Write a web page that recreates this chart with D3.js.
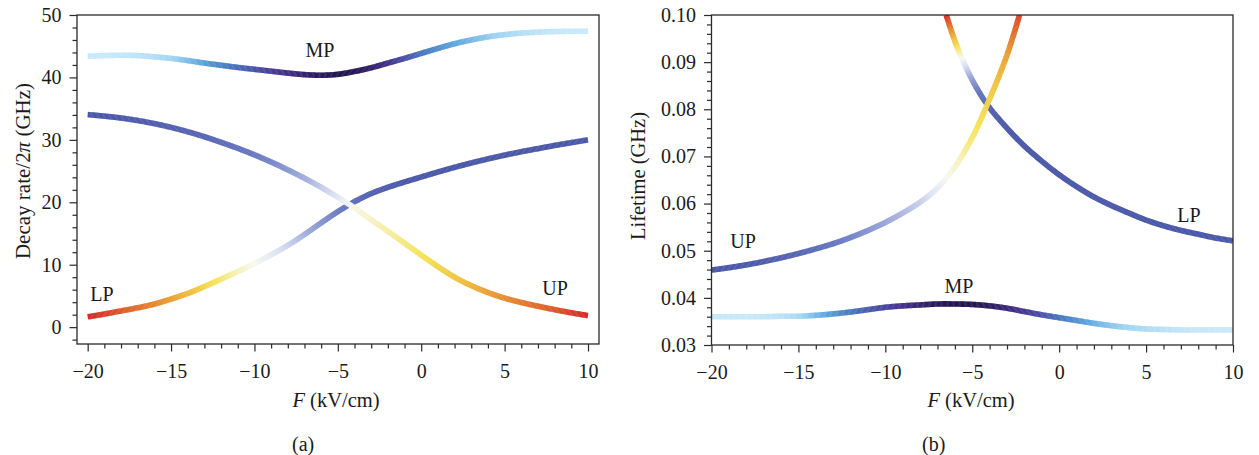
<!DOCTYPE html>
<html>
<head>
<meta charset="utf-8">
<script src="https://cdn.jsdelivr.net/npm/d3@7"></script>
<style>
  html, body { margin: 0; padding: 0; background: #fff; }
  svg { display: block; }
</style>
</head>
<body>
<svg id="chart" width="1259" height="455"></svg>
<script>
// ---------------- DATA ----------------
const leftX = [-20,-19,-18,-17,-16,-15,-14,-13,-12,-11,-10,-9,-8,-7,-6,-5,-4,-3,-2,-1,0,1,2,3,4,5,6,7,8,9,10];
// (a) Decay rate / 2pi (GHz)
const leftMP  = [43.4,43.5,43.55,43.5,43.3,43.05,42.7,42.3,41.95,41.6,41.3,41.0,40.7,40.45,40.35,40.5,40.95,41.55,42.3,43.05,43.85,44.65,45.4,46.0,46.5,46.85,47.1,47.25,47.35,47.4,47.4];
const leftMPc = [0,0,0.02,0.05,0.1,0.18,0.3,0.42,0.52,0.6,0.67,0.74,0.81,0.88,0.95,1.0,0.97,0.9,0.8,0.68,0.57,0.48,0.4,0.32,0.24,0.17,0.1,0.05,0.02,0,0];
const leftLP  = [1.65,2.1,2.6,3.1,3.7,4.5,5.4,6.5,7.7,8.9,10.2,11.6,13.1,14.85,16.7,18.5,20.1,21.4,22.4,23.25,24.05,24.85,25.6,26.3,26.95,27.55,28.1,28.6,29.1,29.55,30.0];
const leftLPc = [1.0,0.97,0.93,0.89,0.85,0.8,0.75,0.68,0.62,0.56,0.5,0.44,0.38,0.3,0.22,0.15,0.08,0.04,0.02,0,0,0,0,0,0,0,0,0,0,0,0];
const leftUP  = [34.05,33.8,33.5,33.1,32.6,32.0,31.3,30.5,29.6,28.65,27.6,26.45,25.2,23.85,22.4,20.8,19.1,17.2,15.35,13.45,11.55,9.7,8.0,6.65,5.55,4.65,3.95,3.35,2.8,2.3,1.85];
const leftUPc = [0,0,0.01,0.02,0.03,0.04,0.05,0.06,0.08,0.11,0.14,0.18,0.23,0.29,0.36,0.43,0.52,0.55,0.58,0.61,0.64,0.68,0.72,0.76,0.8,0.84,0.87,0.9,0.93,0.97,1.0];

// (b) Lifetime (GHz)
const rightMPx = [-20,-19,-18,-17,-16,-15,-14,-13,-12,-11,-10,-9,-8,-7,-6,-5,-4,-3,-2,-1,0,1,2,3,4,5,6,7,8,9,10];
const rightMP  = [0.0360,0.0360,0.0360,0.0360,0.0361,0.0361,0.0363,0.0366,0.0370,0.0375,0.0380,0.0383,0.0385,0.0387,0.0387,0.0386,0.0383,0.0378,0.0371,0.0364,0.0358,0.0352,0.0346,0.0341,0.0337,0.0334,0.0333,0.0332,0.0332,0.0332,0.0332];
const rightMPc = [0,0,0,0.02,0.06,0.15,0.32,0.45,0.55,0.64,0.72,0.8,0.87,0.95,1.0,0.98,0.93,0.85,0.76,0.67,0.57,0.47,0.36,0.26,0.18,0.12,0.07,0.03,0.01,0,0];
const rightUPx = [-20,-19,-18,-17,-16,-15,-14,-13,-12,-11,-10,-9,-8,-7,-6,-5,-4,-3,-2.28];
const rightUP  = [0.0459,0.0464,0.0470,0.0477,0.0485,0.0494,0.0504,0.0515,0.0528,0.0543,0.0560,0.0580,0.0603,0.0633,0.0678,0.0740,0.0822,0.0915,0.1000];
const rightUPc = [0,0,0.01,0.02,0.04,0.06,0.09,0.13,0.17,0.22,0.27,0.32,0.37,0.45,0.54,0.62,0.69,0.8,0.96];
const rightLPx = [-6.5,-6,-5.5,-5,-4.5,-4,-3,-2,-1,0,1,2,3,4,5,6,7,8,9,10];
const rightLP  = [0.1000,0.0945,0.0900,0.0862,0.0830,0.0803,0.0760,0.0722,0.0690,0.0661,0.0636,0.0614,0.0596,0.0580,0.0565,0.0553,0.0543,0.0535,0.0527,0.0521];
const rightLPc = [1.0,0.72,0.45,0.24,0.1,0.04,0,0,0,0,0,0,0,0,0,0,0,0,0,0];

// ticks
const xTicks = [-20,-15,-10,-5,0,5,10];
const leftYTicks = [0,10,20,30,40,50];
const rightYTicks = [0.03,0.04,0.05,0.06,0.07,0.08,0.09,0.10];

// colour maps
const divStops  = [0,0.15,0.3,0.42,0.5,0.56,0.64,0.74,0.84,0.93,1];
const divColors = ["#4a58a8","#6b7cc4","#a5b1de","#dfe4f4","#f8f8f4","#f6f1bd","#f5e45a","#efbf3e","#e78c31","#dd5a2b","#d42a2a"];
const mpStops   = [0,0.2,0.4,0.55,0.7,0.8,0.9,1];
const mpColors  = ["#c8e9fa","#9fd3f2","#5ea6de","#4a7cc2","#4a4aa2","#45308a","#33206a","#231550"];

// ---------------- DRAW ----------------
const FONT = "'Liberation Serif', 'Times New Roman', serif";
const svg = d3.select("#chart");
const divScale = d3.scaleLinear().domain(divStops).range(divColors).interpolate(d3.interpolateRgb).clamp(true);
const mpScale  = d3.scaleLinear().domain(mpStops).range(mpColors).interpolate(d3.interpolateRgb).clamp(true);

const panels = [
  {
    id: "a", left: 77, right: 599, top: 15, bottom: 344,
    xDomain: [-20.64, 10.66], yDomain: [-2.7, 50],
    yTicks: leftYTicks, yMinor: d3.range(-2, 50.001, 2).filter(v => Math.abs(v % 10) > 1e-9),
    yFmt: d3.format("d"),
    yTitle: ["Decay rate/2", "π", " (GHz)"], yTitleX: 30, yTitleY: 171, yTitleSize: 21,
    curves: [
      { xs: leftX, ys: leftMP, cs: leftMPc, map: mpScale },
      { xs: leftX, ys: leftLP, cs: leftLPc, map: divScale },
      { xs: leftX, ys: leftUP, cs: leftUPc, map: divScale }
    ],
    labels: [ {t:"MP", x:320, y:57}, {t:"LP", x:102, y:301}, {t:"UP", x:555, y:295} ],
    xTitleX: 336, capX: 292, cap: "(a)"
  },
  {
    id: "b", left: 711.5, right: 1233, top: 15, bottom: 345,
    xDomain: [-20, 10], yDomain: [0.03, 0.10],
    yTicks: rightYTicks, yMinor: d3.range(0, 36).map(i => 0.03 + i*0.002).filter((v,i) => i % 5 !== 0),
    yFmt: d3.format(".2f"),
    yTitle: ["Lifetime (GHz)"], yTitleX: 645, yTitleY: 176, yTitleSize: 20.5,
    curves: [
      { xs: rightMPx, ys: rightMP, cs: rightMPc, map: mpScale },
      { xs: rightLPx, ys: rightLP, cs: rightLPc, map: divScale },
      { xs: rightUPx, ys: rightUP, cs: rightUPc, map: divScale }
    ],
    labels: [ {t:"UP", x:743, y:248}, {t:"LP", x:1189, y:222}, {t:"MP", x:959, y:293} ],
    xTitleX: 971, capX: 922, cap: "(b)"
  }
];

panels.forEach(p => {
  const x = d3.scaleLinear().domain(p.xDomain).range([p.left, p.right]);
  const y = d3.scaleLinear().domain(p.yDomain).range([p.bottom, p.top]);
  const g = svg.append("g");

  g.append("clipPath").attr("id", "clip-" + p.id)
    .append("rect").attr("x", p.left).attr("y", p.top)
    .attr("width", p.right - p.left).attr("height", p.bottom - p.top);

  // curves
  const cg = g.append("g").attr("clip-path", `url(#clip-${p.id})`);
  p.curves.forEach(c => {
    const pts = c.xs.map((xv, i) => [xv, c.ys[i]]);
    const line = d3.line().x(d => x(d[0])).y(d => y(d[1])).curve(d3.curveCatmullRom.alpha(0.5));
    const tmp = cg.append("path").attr("d", line(pts)).attr("fill", "none").attr("stroke", "none");
    const node = tmp.node();
    const L = node.getTotalLength();
    const tOf = d3.scaleLinear().domain(c.xs).range(c.cs).clamp(true);
    const step = 1.2;
    const segs = [];
    for (let s = 0; s < L; s += step) {
      const a = node.getPointAtLength(s);
      const b = node.getPointAtLength(Math.min(L, s + step + 0.4));
      segs.push({a, b, col: c.map(tOf(x.invert((a.x + b.x) / 2)))});
    }
    tmp.remove();
    cg.append("g").selectAll("line").data(segs).join("line")
      .attr("x1", d => d.a.x).attr("y1", d => d.a.y)
      .attr("x2", d => d.b.x).attr("y2", d => d.b.y)
      .attr("stroke", d => d.col)
      .attr("stroke-width", 5.6)
      .attr("stroke-linecap", "butt");
  });

  // frame
  g.append("rect").attr("x", p.left).attr("y", p.top)
    .attr("width", p.right - p.left).attr("height", p.bottom - p.top)
    .attr("fill", "none").attr("stroke", "#2a2a2a").attr("stroke-width", 1.3);

  // axes
  const styleAxis = sel => {
    sel.select(".domain").remove();
    sel.selectAll("line").attr("stroke", "#2a2a2a").attr("stroke-width", 1.2);
    sel.selectAll("text").attr("font-family", FONT).attr("font-size", 20).attr("fill", "#1a1a1a");
    sel.attr("font-family", null).attr("font-size", null);
  };
  const xMinorVals = d3.range(-20, 10.001, 1).filter(v => xTicks.indexOf(v) < 0);
  g.append("g").attr("transform", `translate(0,${p.bottom})`)
    .call(d3.axisBottom(x).tickValues(xMinorVals).tickSize(4.5).tickSizeOuter(0).tickFormat(""))
    .call(styleAxis);
  g.append("g").attr("transform", `translate(0,${p.bottom})`)
    .call(d3.axisBottom(x).tickValues(xTicks).tickSize(7.5).tickSizeOuter(0).tickPadding(12).tickFormat(d3.format("d")))
    .call(styleAxis);
  g.append("g").attr("transform", `translate(${p.left},0)`)
    .call(d3.axisLeft(y).tickValues(p.yMinor).tickSize(4.5).tickSizeOuter(0).tickFormat(""))
    .call(styleAxis);
  g.append("g").attr("transform", `translate(${p.left},0)`)
    .call(d3.axisLeft(y).tickValues(p.yTicks).tickSize(7.5).tickSizeOuter(0).tickPadding(8).tickFormat(p.yFmt))
    .call(styleAxis);

  // curve labels
  p.labels.forEach(l => {
    g.append("text").attr("x", l.x).attr("y", l.y).attr("text-anchor", "middle")
      .attr("font-family", FONT).attr("font-size", 20).attr("fill", "#1a1a1a").text(l.t);
  });

  // x title
  const xt = g.append("text").attr("x", p.xTitleX).attr("y", 407).attr("text-anchor", "middle")
    .attr("font-family", FONT).attr("font-size", 20.5).attr("fill", "#1a1a1a");
  xt.append("tspan").attr("font-style", "italic").text("F");
  xt.append("tspan").text(" (kV/cm)");

  // caption
  g.append("text").attr("x", p.capX).attr("y", 451)
    .attr("font-family", FONT).attr("font-size", 20).attr("fill", "#1a1a1a").text(p.cap);

  // y title
  const yt = g.append("text").attr("transform", `translate(${p.yTitleX},${p.yTitleY}) rotate(-90)`)
    .attr("text-anchor", "middle").attr("font-family", FONT).attr("font-size", p.yTitleSize).attr("fill", "#1a1a1a");
  p.yTitle.forEach(s => {
    const ts = yt.append("tspan").text(s);
    if (s === "π") ts.attr("font-style", "italic");
  });
});
</script>
</body>
</html>
